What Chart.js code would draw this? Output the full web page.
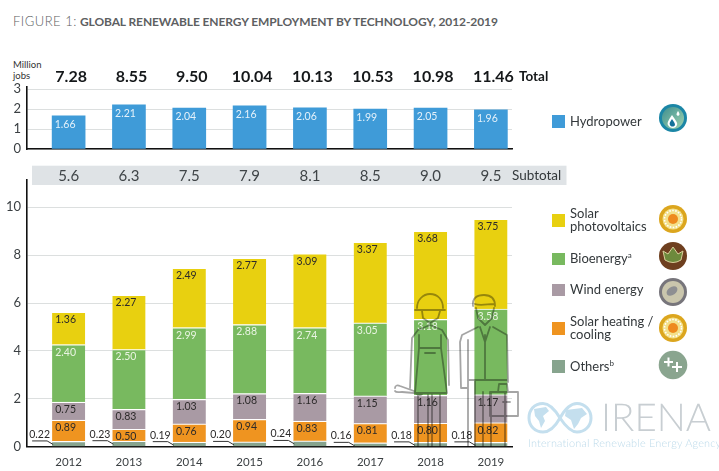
<!DOCTYPE html>
<html>
<head>
<meta charset="utf-8">
<script src="https://cdn.jsdelivr.net/npm/chart.js@4"></script>
<style>
  html, body { margin: 0; padding: 0; background: #fff; }
  body { width: 719px; height: 471px; position: relative; overflow: hidden; font-family: Lato, sans-serif; }
  .abs { position: absolute; }
  #title { left: 13px; top: 13px; font-size: 12px; color: #5d6062; white-space: nowrap; }
  #title span { font-weight: 300; font-size: 13px; letter-spacing: .5px; }
  #title b { font-weight: 700; letter-spacing: -.1px; }
  #unit { left: 13px; top: 59px; font-size: 9.5px; line-height: 11px; color: #333; }
  canvas { position: absolute; left: 0; }
  #top-wrap, #bottom-wrap { position: absolute; left: 0; width: 719px; }
  #top-wrap { top: 60px; height: 95px; }
  #bottom-wrap { top: 160px; height: 311px; }
  .swatch { position: absolute; left: 552px; width: 12.5px; height: 12.5px; }
  .legend-text { position: absolute; left: 570px; font-size: 13px; line-height: 13.6px; color: #33383b; white-space: nowrap; transform: translateY(-50%); }
  .legend-text sup { font-size: 8px; line-height: 0; }
  svg.overlay { position: absolute; left: 0; top: 0; pointer-events: none; }
  #workers { mix-blend-mode: multiply; }
  #irena { left: 601px; top: 394px; font-size: 38.5px; font-weight: 300; color: #c8ced2; letter-spacing: 0; text-rendering: geometricPrecision; }
  #irena-sub { left: 528px; top: 437px; font-size: 10.9px; font-weight: 300; color: #bcdaea; white-space: nowrap; letter-spacing: .2px; text-rendering: geometricPrecision; }
</style>
</head>
<body>
<div id="title" class="abs"><span>FIGURE 1:</span> <b>GLOBAL RENEWABLE ENERGY EMPLOYMENT BY TECHNOLOGY, 2012-2019</b></div>
<div id="unit" class="abs">Million<br>jobs</div>

<div id="top-wrap"><canvas id="chart-hydro"></canvas></div>
<div id="bottom-wrap"><canvas id="chart-stack"></canvas></div>

<!-- outline of the two workers standing over the last bars -->
<svg id="workers" class="overlay" width="719" height="471" fill="none" stroke="#a5a5a5" stroke-width="1.8" stroke-linejoin="round" stroke-linecap="round">
  <path d="M417 308 C417 300 423 294 430 294 C438 294 443 300 443 308 M415 310 L445 310 M422 311 L423 318 L430 323 L438 318 L440 311"/>
  <path d="M418 330 L412 338 L410 388 M442 330 L448 340 L449 385 M418 330 L430 325 L442 330"/>
  <path d="M419 335 L419 348 L441 348 L441 335 M425 353 L435 353 M419 348 L415 393 L447 393 L441 348"/>
  <path d="M418 395 L418 446 M428 395 L428 446 M432 395 L432 446 M440 395 L440 446"/>
  <path d="M395 388 C395 385 398 385 400 386 L414 391 C416 395 420 396 422 394 M395 391 C396 393 399 392 402 392 L414 393"/>
  <path d="M473 306 C472 298 477 295 484 295 C491 295 495 298 495 306 M475 304 C480 306 488 304 494 304 M476 308 L478 318 L485 325 L492 318 L494 308"/>
  <path d="M478 327 L462 335 L460 342 L461 388 L468 388 M493 327 L507 335 L508 382 M468 340 L468 446 M468 380 L508 380 M485 335 L485 380 M480 327 L485 342 L490 327"/>
  <path d="M475 380 L475 446 M483 392 L483 446 M491 392 L491 446 M505 392 L505 446"/>
  <path d="M490 392 L518 392 L518 416 L490 416 Z M498 392 L499 384 L507 384 L508 392 M503 402 L510 402"/>
</svg>

<!-- legend icons -->
<svg class="overlay" width="719" height="471">
  <defs>
    <linearGradient id="hydroFill" x1="0" y1="0" x2="1" y2="1"><stop offset="0" stop-color="#3f8f8f"/><stop offset="1" stop-color="#9ed3b0"/></linearGradient>
  </defs>
  <g transform="translate(673 118)">
    <circle r="14" fill="#1b86a6"/><circle r="11" fill="url(#hydroFill)"/>
    <path d="M-1 -3 C-5 3 -6 5 -5 7 C-3 11 3 11 4 7 C5 5 3 3 -1 -3 Z" fill="#fff"/>
    <path d="M-1 1 C-3 4 -4 5 -3 7 C-2 9 1 9 2 7 C2 5 1 4 -1 1 Z" fill="#14719a"/>
    <path d="M5 -7 C3 -4 3 -3 5 -2 C7 -3 7 -4 5 -7 Z" fill="#fff"/>
  </g>
  <g id="sun1" transform="translate(673 219)">
    <circle r="14" fill="#dca61e"/><circle r="10.5" fill="#f3e08a"/>
    <circle r="8.5" fill="none" stroke="#fff" stroke-width="1.6" stroke-dasharray="1.6 1.4"/>
    <circle r="5" fill="#ee8a1e"/>
  </g>
  <g transform="translate(673 256)">
    <circle r="14" fill="#6e3f1f"/>
    <path d="M0 -9 L5 -2 L10 -5 L8 4 Q0 9 -8 4 L-10 -5 L-5 -2 Z" fill="#6d8a3c" stroke="#d8cf9a" stroke-width="1"/>
  </g>
  <g transform="translate(673 292)">
    <circle r="14" fill="#77757b"/><circle r="11" fill="#cac6ad"/>
    <ellipse cx="-1" cy="-1" rx="6" ry="4" fill="#8e8f92" transform="rotate(-35 -1 -1)"/>
  </g>
  <g transform="translate(673 328)">
    <circle r="14" fill="#dca61e"/><circle r="10.5" fill="#f3e08a"/>
    <circle r="8.5" fill="none" stroke="#fff" stroke-width="1.6" stroke-dasharray="1.6 1.4"/>
    <circle r="5" fill="#ee8a1e"/>
  </g>
  <g transform="translate(673 365)">
    <circle r="14.3" fill="#8aa58f"/>
    <path d="M-9 -3 H0 M-4.5 -7.5 V1.5 M-1 2 H9 M4 -3 V7" stroke="#fff" stroke-width="2" fill="none"/>
  </g>
  <!-- logo globes -->
  <g fill="none" stroke="#c4dfee" stroke-width="3">
    <path d="M560 418 C554 408 548 403.5 543 403.5 C534 403.5 529 410 529 418 C529 426 535 432 543 432 C549 432 555 427 560 418 C565 409 571 403.5 577 403.5 C585 403.5 591 410 591 418 C591 426 585 432 577 432 C571 432 566 427 560 418 Z"/>
  </g>
  <g fill="#c4dfee">
    <path d="M534 409 L546 407 L549 411 L543 416 L545 421 L541 428 L539 421 L535 416 Z"/>
    <path d="M566 410 L582 408 L587 414 L581 418 L578 424 L574 429 L571 420 L565 416 Z"/>
  </g>
</svg>

<div id="irena" class="abs">IRENA</div>
<div id="irena-sub" class="abs">International Renewable Energy Agency</div>

<script>
// ---- Data ----
const years = [2012, 2013, 2014, 2015, 2016, 2017, 2018, 2019];
const totals = ['7.28', '8.55', '9.50', '10.04', '10.13', '10.53', '10.98', '11.46'];
const subtotals = ['5.6', '6.3', '7.5', '7.9', '8.1', '8.5', '9.0', '9.5'];
const hydropower = [1.66, 2.21, 2.04, 2.16, 2.06, 1.99, 2.05, 1.96];
const others = [0.22, 0.23, 0.19, 0.20, 0.24, 0.16, 0.18, 0.18];
const solarHeating = [0.89, 0.50, 0.76, 0.94, 0.83, 0.81, 0.80, 0.82];
const wind = [0.75, 0.83, 1.03, 1.08, 1.16, 1.15, 1.16, 1.17];
const bioenergy = [2.40, 2.50, 2.99, 2.88, 2.74, 3.05, 3.18, 3.58];
const solarPv = [1.36, 2.27, 2.49, 2.77, 3.09, 3.37, 3.68, 3.75];
const topTicks = [0, 1, 2, 3];
const bottomTicks = [0, 2, 4, 6, 8, 10];

const BLUE = '#3f9bd8', YELLOW = '#e8d010', GREEN = '#78b95f', MAUVE = '#a99aa4', ORANGE = '#ef9420', GREY_GREEN = '#87a48e';

// ---- Legend ----
const legendItems = [
  { color: BLUE, html: 'Hydropower', y: 121.5 },
  { color: YELLOW, html: 'Solar<br>photovoltaics', y: 220.5 },
  { color: GREEN, html: 'Bioenergy<sup>a</sup>', y: 259 },
  { color: MAUVE, html: 'Wind energy', y: 290 },
  { color: ORANGE, html: 'Solar heating /<br>cooling', y: 328.5 },
  { color: GREY_GREEN, html: 'Others<sup>b</sup>', y: 366.5 },
];
legendItems.forEach(it => {
  const sw = document.createElement('div');
  sw.className = 'swatch';
  sw.style.top = (it.y - 6.2) + 'px';
  sw.style.background = it.color;
  document.body.appendChild(sw);
  const tx = document.createElement('div');
  tx.className = 'legend-text';
  tx.style.top = it.y + 'px';
  tx.innerHTML = it.html;
  document.body.appendChild(tx);
});

// ---- Shared scale options ----
Chart.defaults.font.family = 'Lato, sans-serif';
Chart.defaults.animation = false;

// Tick label overhang would push the plot area in, so drop it
function clearPadding(s) {
  s.paddingTop = 0;
  s.paddingBottom = 0;
  s.paddingLeft = 0;
  s.paddingRight = 0;
}

function xScale(showTicks) {
  return {
    type: 'linear',
    stacked: true,
    offset: false,
    min: 2011.31,
    max: 2019.35,
    grid: { display: false },
    border: { color: '#111', width: 1.6 },
    ticks: {
      display: showTicks,
      stepSize: 1,
      includeBounds: false,
      padding: 1,
      maxRotation: 0,
      autoSkip: false,
      color: '#3a3f42',
      font: { size: 11.5 },
      callback: v => String(v),
    },
    afterFit: s => { s.height = showTicks ? 24.3 : 1; clearPadding(s); },
  };
}

function yScale(max, ticks, size) {
  return {
    stacked: true,
    min: 0,
    max: max,
    grid: { color: '#dcdfdf', lineWidth: 1, drawTicks: false },
    border: { color: '#111', width: 1.6 },
    afterBuildTicks: s => { s.ticks = ticks.map(v => ({ value: v })); },
    ticks: { color: '#3a3f42', padding: 6, font: { size: size } },
    afterFit: s => { s.width = 27; clearPadding(s); },
  };
}

function text(ctx, str, x, y, font, color, align) {
  ctx.font = font;
  ctx.fillStyle = color;
  ctx.textAlign = align || 'center';
  ctx.textBaseline = 'middle';
  ctx.fillText(str, x, y);
}

// ---- Top chart: hydropower with totals ----
const hydroLabels = {
  id: 'hydroLabels',
  afterDatasetsDraw(chart) {
    const { ctx } = chart;
    const bars = chart.getDatasetMeta(0).data;
    bars.forEach((bar, i) => {
      text(ctx, hydropower[i].toFixed(2), bar.x - 3.5, bar.y + 8.5, '10.5px Lato', '#e4f1fa');
      text(ctx, totals[i], bar.x + 2.5, 17, '700 16px Lato', '#15181a');
    });
    text(ctx, 'Total', 519, 17, '700 13.5px Lato', '#15181a', 'left');
  },
};

new Chart(document.getElementById('chart-hydro'), {
  type: 'bar',
  data: {
    datasets: [{
      label: 'Hydropower',
      data: years.map((y, i) => ({ x: y, y: hydropower[i] })),
      backgroundColor: BLUE,
      barThickness: 33,
    }],
  },
  options: {
    responsive: true,
    maintainAspectRatio: false,
    layout: { padding: { top: 27, right: 207, bottom: 5, left: 0 } },
    plugins: { legend: { display: false }, tooltip: { enabled: false } },
    scales: { x: xScale(false), y: yScale(3.1, topTicks, 13) },
  },
  plugins: [hydroLabels],
});

// ---- Bottom chart: stacked technologies with subtotal band ----
const stackLabelColors = ['#2c2a2a', '#2c2a2a', '#2c2a2a', '#e9f4e2', '#2c2a2a'];
const stackSeries = [others, solarHeating, wind, bioenergy, solarPv];

const stackLabels = {
  id: 'stackLabels',
  beforeDraw(chart) {
    const { ctx } = chart;
    ctx.save();
    ctx.fillStyle = '#dfe3e6';
    ctx.fillRect(32, 5.7, 534.5, 19.3);
    ctx.restore();
  },
  afterDatasetsDraw(chart) {
    const { ctx } = chart;
    stackSeries.forEach((series, d) => {
      const bars = chart.getDatasetMeta(d).data;
      bars.forEach((bar, i) => {
        if (d === 0) {
          // small "others" value sits left of the bar with a leader line
          const left = bar.x - 16.5;
          text(ctx, series[i].toFixed(2), left - 12.5, bar.y - 7, '10.5px Lato', '#2c2a2a');
          ctx.save();
          ctx.strokeStyle = '#333';
          ctx.lineWidth = 1;
          ctx.beginPath();
          ctx.moveTo(left - 20, bar.y - 0.5);
          ctx.lineTo(left - 5, bar.y - 0.5);
          ctx.lineTo(left + 1, bar.y + 3);
          ctx.stroke();
          ctx.restore();
        } else {
          text(ctx, series[i].toFixed(2), bar.x - 3, bar.y + 7.5, '10.5px Lato', stackLabelColors[d]);
        }
      });
    });
    const bars = chart.getDatasetMeta(0).data;
    bars.forEach((bar, i) => {
      text(ctx, subtotals[i], bar.x, 16, '15px Lato', '#3f4447');
    });
    text(ctx, 'Subtotal', 512, 16, '13.5px Lato', '#33383b', 'left');
  },
};

function stackDataset(label, values, color) {
  return {
    label,
    data: years.map((y, i) => ({ x: y, y: values[i] })),
    backgroundColor: color,
    borderColor: '#fff',
    borderWidth: { top: 1.2, right: 0, bottom: 0, left: 0 },
    borderSkipped: false,
    barThickness: 33,
  };
}

new Chart(document.getElementById('chart-stack'), {
  type: 'bar',
  data: {
    datasets: [
      stackDataset('Others', others, GREY_GREEN),
      stackDataset('Solar heating / cooling', solarHeating, ORANGE),
      stackDataset('Wind energy', wind, MAUVE),
      stackDataset('Bioenergy', bioenergy, GREEN),
      stackDataset('Solar photovoltaics', solarPv, YELLOW),
    ],
  },
  options: {
    responsive: true,
    maintainAspectRatio: false,
    layout: { padding: { top: 20, right: 207, bottom: 0, left: 0 } },
    plugins: { legend: { display: false }, tooltip: { enabled: false } },
    scales: { x: xScale(true), y: yScale(11.136, bottomTicks, 13) },
  },
  plugins: [stackLabels],
});
</script>
</body>
</html>
